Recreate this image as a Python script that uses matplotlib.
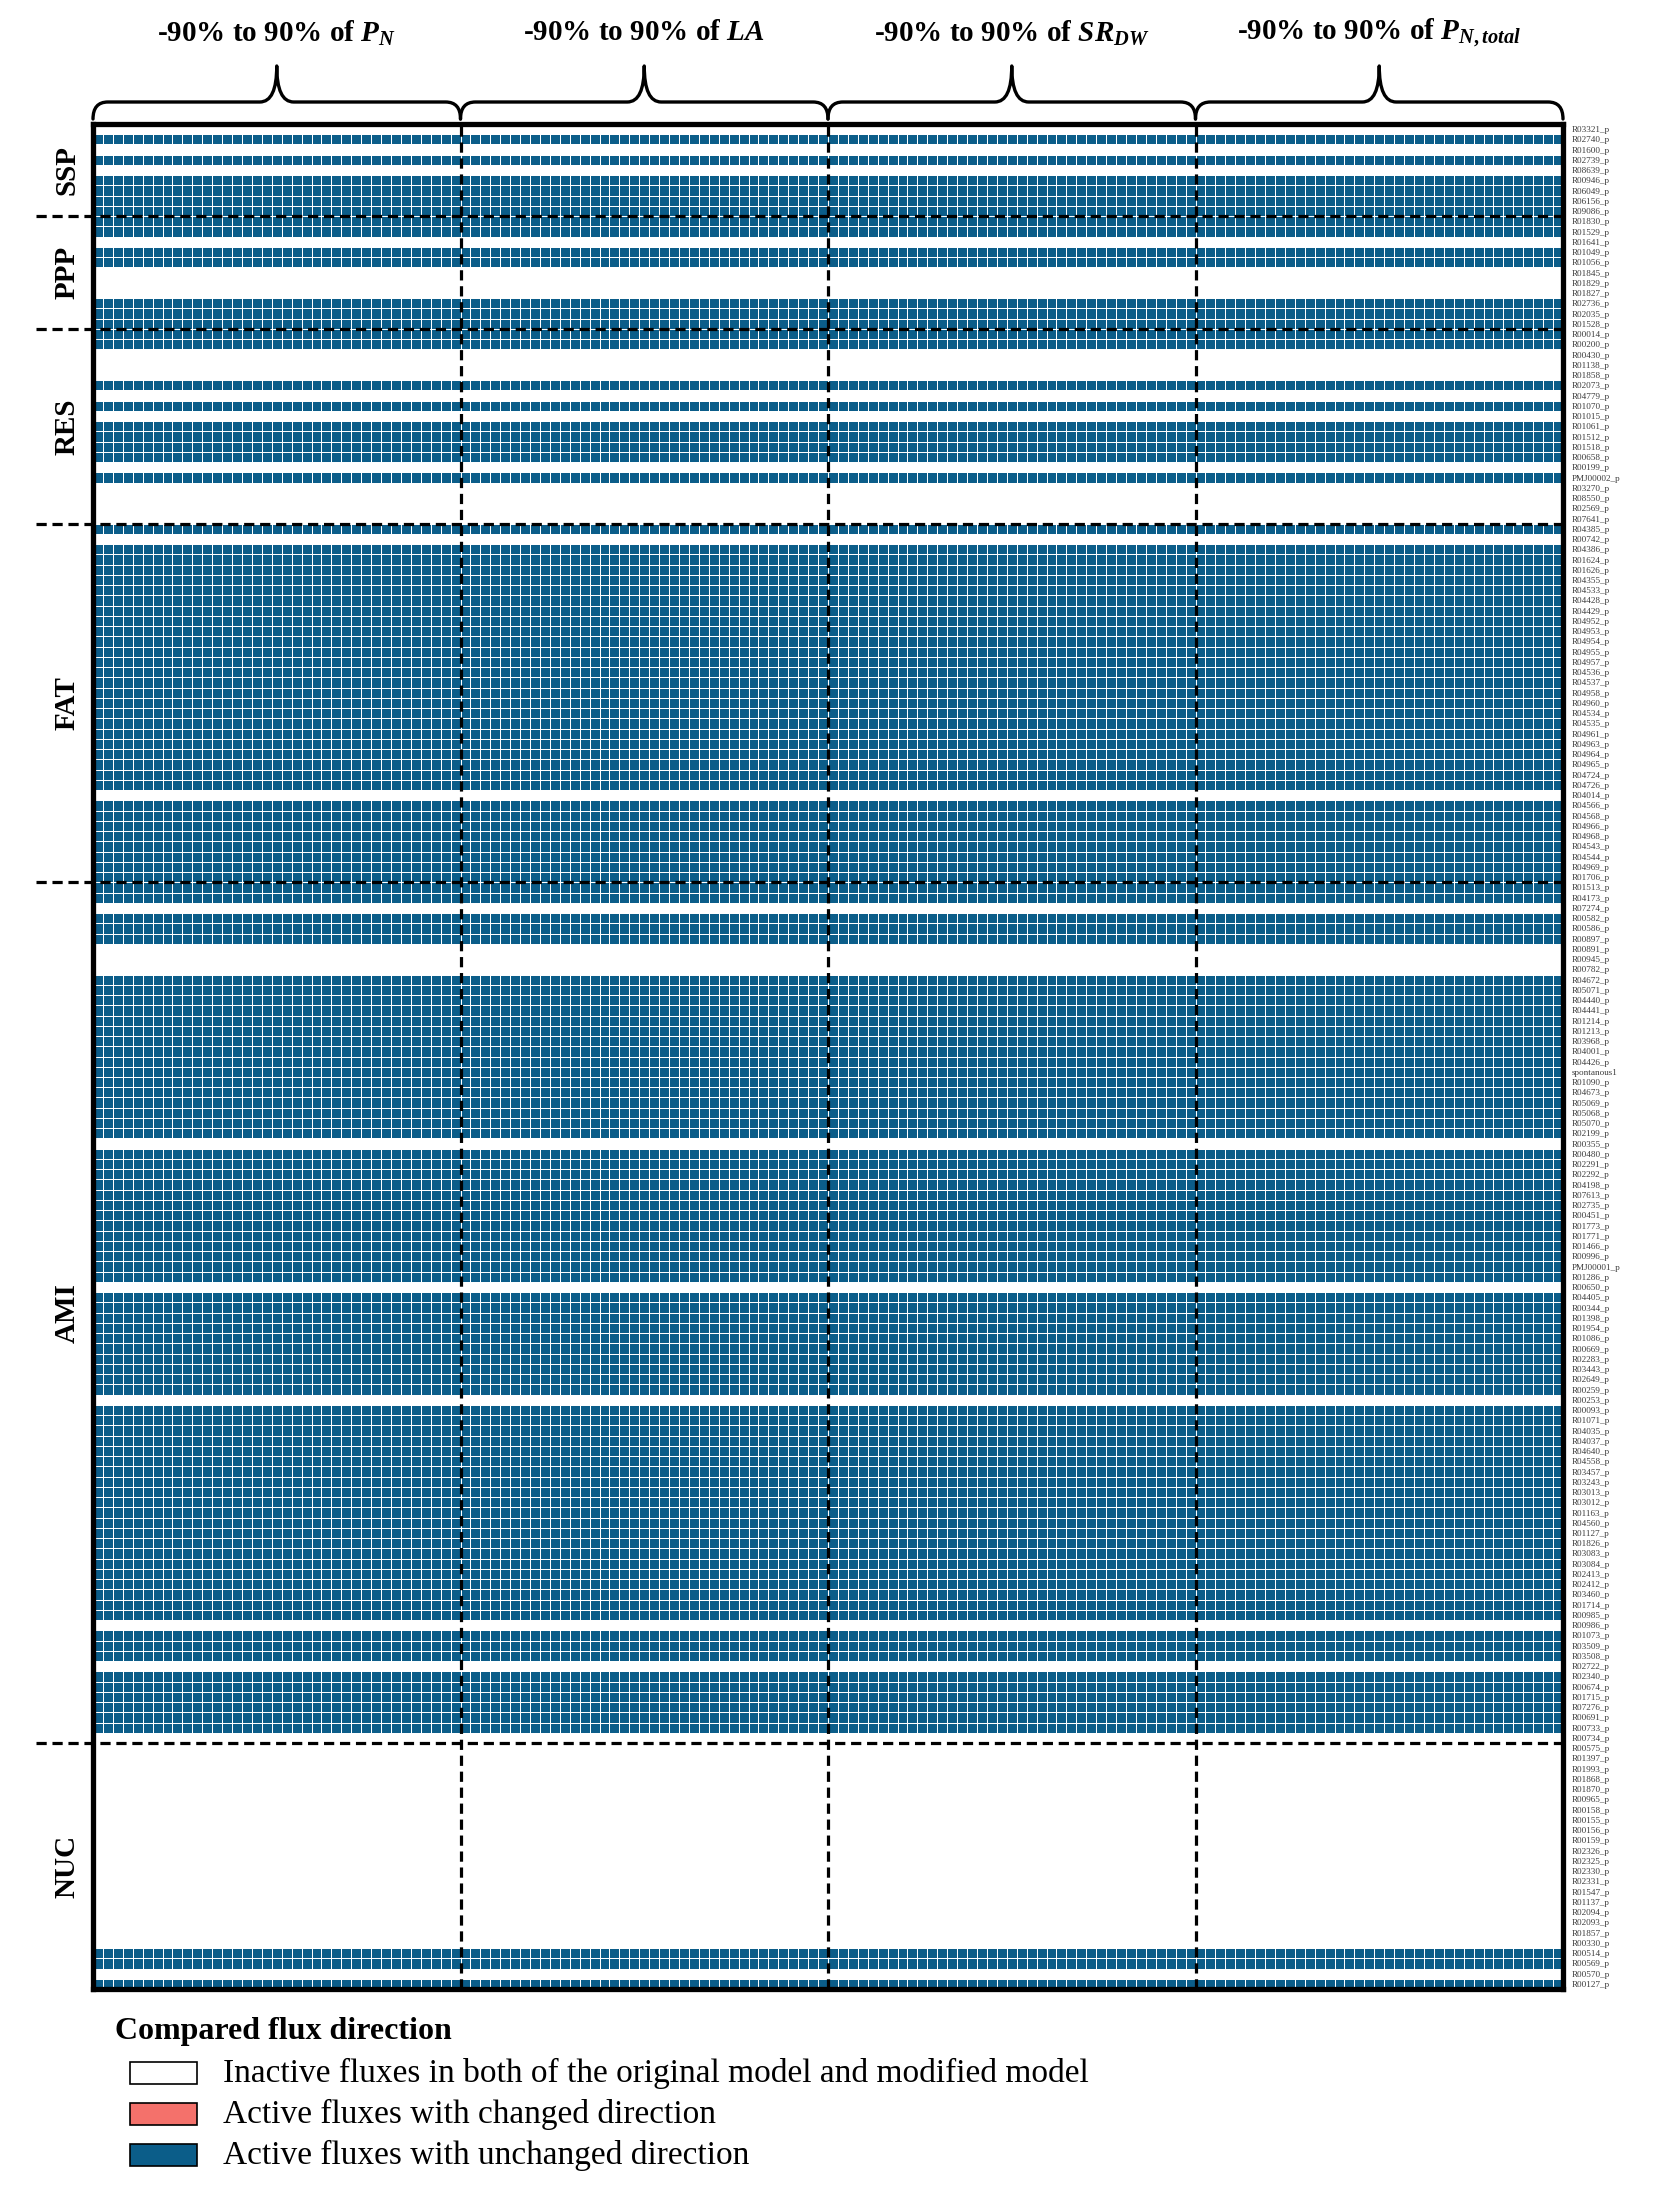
import matplotlib.pyplot as plt
import numpy as np
from matplotlib.colors import ListedColormap
from matplotlib.patches import Rectangle, PathPatch
from matplotlib.path import Path

plt.rcParams['font.family'] = ['Liberation Serif', 'DejaVu Serif']
plt.rcParams['mathtext.fontset'] = 'custom'
plt.rcParams['mathtext.it'] = 'Liberation Serif:italic:bold'
plt.rcParams['mathtext.rm'] = 'Liberation Serif:bold'

# ---- data -------------------------------------------------------------
sections = ["SSP", "PPP", "RES", "FAT", "AMI", "NUC"]

ssp_rxns = ["R03321_p", "R02740_p", "R01600_p", "R02739_p", "R08639_p", "R00946_p",
            "R06049_p", "R06156_p", "R09086_p"]
ppp_rxns = ["R01830_p", "R01529_p", "R01641_p", "R01049_p", "R01056_p", "R01845_p",
            "R01829_p", "R01827_p", "R02736_p", "R02035_p", "R01528_p"]
res_rxns = ["R00014_p", "R00200_p", "R00430_p", "R01138_p", "R01858_p", "R02073_p",
            "R04779_p", "R01070_p", "R01015_p", "R01061_p", "R01512_p", "R01518_p",
            "R00658_p", "R00199_p", "PMJ00002_p", "R03270_p", "R08550_p", "R02569_p",
            "R07641_p"]
fat_rxns = ["R04385_p", "R00742_p", "R04386_p", "R01624_p", "R01626_p", "R04355_p",
            "R04533_p", "R04428_p", "R04429_p", "R04952_p", "R04953_p", "R04954_p",
            "R04955_p", "R04957_p", "R04536_p", "R04537_p", "R04958_p", "R04960_p",
            "R04534_p", "R04535_p", "R04961_p", "R04963_p", "R04964_p", "R04965_p",
            "R04724_p", "R04726_p", "R04014_p", "R04566_p", "R04568_p", "R04966_p",
            "R04968_p", "R04543_p", "R04544_p", "R04969_p", "R01706_p"]
ami_rxns = ["R01513_p", "R04173_p", "R07274_p", "R00582_p", "R00586_p", "R00897_p",
            "R00891_p", "R00945_p", "R00782_p", "R04672_p", "R05071_p", "R04440_p",
            "R04441_p", "R01214_p", "R01213_p", "R03968_p", "R04001_p", "R04426_p",
            "spontanous1", "R01090_p", "R04673_p", "R05069_p", "R05068_p", "R05070_p",
            "R02199_p", "R00355_p", "R00480_p", "R02291_p", "R02292_p", "R04198_p",
            "R07613_p", "R02735_p", "R00451_p", "R01773_p", "R01771_p", "R01466_p",
            "R00996_p", "PMJ00001_p", "R01286_p", "R00650_p", "R04405_p", "R00344_p",
            "R01398_p", "R01954_p", "R01086_p", "R00669_p", "R02283_p", "R03443_p",
            "R02649_p", "R00259_p", "R00253_p", "R00093_p", "R01071_p", "R04035_p",
            "R04037_p", "R04640_p", "R04558_p", "R03457_p", "R03243_p", "R03013_p",
            "R03012_p", "R01163_p", "R04560_p", "R01127_p", "R01826_p", "R03083_p",
            "R03084_p", "R02413_p", "R02412_p", "R03460_p", "R01714_p", "R00985_p",
            "R00986_p", "R01073_p", "R03509_p", "R03508_p", "R02722_p", "R02340_p",
            "R00674_p", "R01715_p", "R07276_p", "R00691_p", "R00733_p", "R00734_p"]
nuc_rxns = ["R00575_p", "R01397_p", "R01993_p", "R01868_p", "R01870_p", "R00965_p",
            "R00158_p", "R00155_p", "R00156_p", "R00159_p", "R02326_p", "R02325_p",
            "R02330_p", "R02331_p", "R01547_p", "R01137_p", "R02094_p", "R02093_p",
            "R01857_p", "R00330_p", "R00514_p", "R00569_p", "R00570_p", "R00127_p"]

# flux state of each reaction (same in every column):
# 0 = inactive in both models, 1 = active, changed direction, 2 = active, unchanged
ssp_state = "020202222"
ppp_state = "22022000222"
res_state = "2200020202222020000"
fat_state = "20" "222222222222222222222222" "0" "22222222"
ami_state = ("22" "0" "222" "000" "2222222222222222" "0" "2222222222222" "0"
             "2222222222" "0" "222222222222222222222" "0" "222" "0" "222222" "0")
nuc_state = "00000000000000000000" "22" "0" "2"

# columns: perturbation levels for each parameter
levels = [-90, -85, -80, -75, -70, -65, -60, -55, -50, -45, -40, -35, -30, -25, -20,
          -15, -10, -5, 0, 5, 10, 15, 20, 25, 30, 35, 40, 45, 50, 55, 60, 65, 70, 75,
          80, 85, 90]
params = ["$P_N$", "$LA$", "$SR_{DW}$", "$P_{N,total}$"]

legend_labels = ["Inactive fluxes in both of the original model and modified model",
                 "Active fluxes with changed direction",
                 "Active fluxes with unchanged direction"]
colors = ["white", "#f4716b", "#0b5d89"]

# ---- build matrix -----------------------------------------------------
rxn_groups = [ssp_rxns, ppp_rxns, res_rxns, fat_rxns, ami_rxns, nuc_rxns]
state_groups = [ssp_state, ppp_state, res_state, fat_state, ami_state, nuc_state]
rxns = [r for g in rxn_groups for r in g]
state = np.array([int(c) for s in state_groups for c in s])
assert len(rxns) == len(state)

ncol = len(levels) * len(params)
mat = np.repeat(state[:, None], ncol, axis=1)
nrow = len(rxns)

# ---- figure -----------------------------------------------------------
W, H = 1660, 2190
fig = plt.figure(figsize=(W / 100, H / 100), dpi=100)
top_px, bot_px, left_px, right_px = 124, 1989, 93, 1563
ax = fig.add_axes([left_px / W, 1 - bot_px / H, (right_px - left_px) / W, (bot_px - top_px) / H])
ax_h = bot_px - top_px

ax.pcolormesh(np.arange(ncol + 1), np.arange(nrow + 1), mat,
              cmap=ListedColormap(colors), vmin=-0.5, vmax=2.5,
              edgecolors="white", linewidth=0.6)
ax.set_xlim(0, ncol)
ax.set_ylim(nrow, 0)

for sp in ax.spines.values():
    sp.set_linewidth(3.8)
    sp.set_zorder(5)

ax.set_xticks([])
ax.yaxis.tick_right()
ax.set_yticks(np.arange(nrow) + 0.5)
ax.set_yticklabels(rxns, fontsize=6.6, color="#3a3a3a")
ax.tick_params(axis="y", length=0, pad=6)

# block separators
nlev = len(levels)
for k in range(1, len(params)):
    ax.axvline(k * nlev, color="black", lw=2.3, ls=(0, (3.2, 1.8)), zorder=4)

# section separators + labels
bounds = np.cumsum([len(g) for g in rxn_groups])
ytr = ax.get_yaxis_transform()
start = 0
for name, b in zip(sections, bounds):
    if b < nrow:
        ax.plot([-0.039, 1], [b, b], transform=ytr, color="black", lw=2.3,
                ls=(0, (3.2, 1.8)), clip_on=False, zorder=4)
    ax.text(-0.0175, (start + b) / 2, name, transform=ytr, rotation=90,
            ha="center", va="center", fontsize=21, fontweight="bold")
    start = b

# braces and headers
xtr = ax.get_xaxis_transform()


def yup(px):
    return 1 + px / ax_h


def brace(x0, x1, e=5, m=22, t=58, re=1.5, rm=1.7):
    xm = (x0 + x1) / 2
    verts = [(x0, yup(e)), (x0, yup(m)), (x0 + re, yup(m)),
             (xm - rm, yup(m)), (xm, yup(m)), (xm, yup(t)),
             (xm, yup(m)), (xm + rm, yup(m)),
             (x1 - re, yup(m)), (x1, yup(m)), (x1, yup(e))]
    codes = [Path.MOVETO, Path.CURVE3, Path.CURVE3,
             Path.LINETO, Path.CURVE3, Path.CURVE3,
             Path.CURVE3, Path.CURVE3,
             Path.LINETO, Path.CURVE3, Path.CURVE3]
    ax.add_patch(PathPatch(Path(verts, codes), transform=xtr, fill=False,
                           lw=2.4, edgecolor="black", clip_on=False,
                           capstyle="round", joinstyle="round"))


for k, p in enumerate(params):
    x0, x1 = k * nlev, (k + 1) * nlev
    brace(x0, x1)
    ax.text((x0 + x1) / 2, yup(91), "-90% to 90% of " + p, transform=xtr,
            ha="center", va="center", fontsize=21, fontweight="bold")

# legend
fig.text(115 / W, 1 - 2032 / H, "Compared flux direction", fontsize=23,
         fontweight="bold", va="center", ha="left")
for i, (lab, c) in enumerate(zip(legend_labels, colors)):
    yc = 2073 + i * 41
    fig.add_artist(Rectangle((130 / W, 1 - (yc + 11) / H), 67 / W, 22 / H,
                             transform=fig.transFigure, facecolor=c,
                             edgecolor="black", lw=1.2))
    fig.text(223 / W, 1 - yc / H, lab, fontsize=24, va="center", ha="left")

fig.savefig("out.png", dpi=100)
